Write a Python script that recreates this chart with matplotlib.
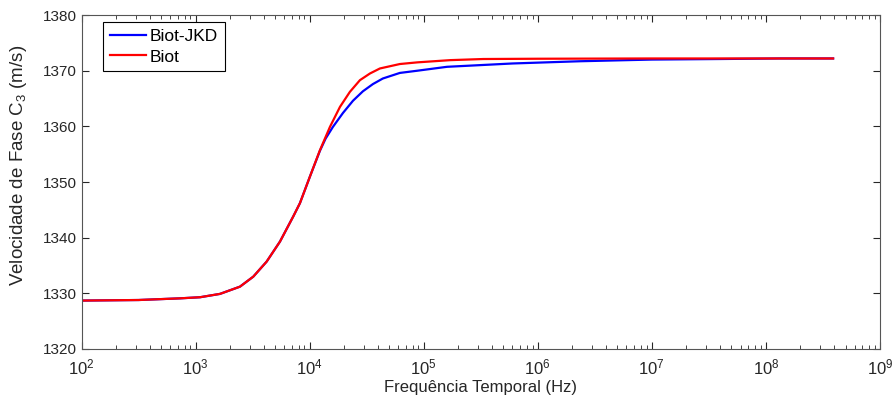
import numpy as np
import matplotlib
matplotlib.use("Agg")
import matplotlib.pyplot as plt
from matplotlib.ticker import LogLocator

plt.rcParams['font.family'] = ['Liberation Sans', 'DejaVu Sans']
plt.rcParams['mathtext.fontset'] = 'custom'
plt.rcParams['mathtext.rm'] = 'Liberation Sans'
plt.rcParams['mathtext.it'] = 'Liberation Sans'

# log10 of frequency (Hz) and phase velocity (m/s)
biot_logf = [2.0, 2.5, 2.863, 3.039, 3.214, 3.389, 3.506, 3.623, 3.740, 3.856,
             3.915, 4.003, 4.090, 4.178, 4.266, 4.353, 4.441, 4.529, 4.616,
             4.791, 4.945, 5.234, 5.523, 6.0, 7.0, 8.59]
biot_c3 = [1328.7, 1328.8, 1329.1, 1329.3, 1329.9, 1331.2, 1333.0, 1335.7, 1339.3,
           1343.8, 1346.2, 1351.0, 1355.7, 1359.9, 1363.5, 1366.2, 1368.3, 1369.5,
           1370.4, 1371.2, 1371.5, 1371.9, 1372.1, 1372.15, 1372.2, 1372.2]

jkd_logf = [2.0, 2.5, 2.863, 3.039, 3.214, 3.389, 3.506, 3.623, 3.740, 3.856,
            3.915, 4.003, 4.090, 4.140, 4.204, 4.292, 4.380, 4.467, 4.555, 4.642,
            4.791, 4.945, 5.204, 5.78, 6.37, 7.0, 7.6, 8.12, 8.59]
jkd_c3 = [1328.7, 1328.8, 1329.1, 1329.3, 1329.9, 1331.2, 1333.0, 1335.7, 1339.3,
          1343.8, 1346.2, 1351.0, 1355.6, 1357.8, 1359.9, 1362.4, 1364.6, 1366.3,
          1367.6, 1368.6, 1369.6, 1370.0, 1370.7, 1371.3, 1371.7, 1372.0, 1372.1,
          1372.2, 1372.2]

fig = plt.figure(figsize=(8.93, 3.96), dpi=100)
ax = fig.add_axes([0.0913, 0.1187, 0.894, 0.8433])

ax.plot(10 ** np.array(jkd_logf), jkd_c3, color='#0000ff', lw=1.6, label='Biot-JKD')
ax.plot(10 ** np.array(biot_logf), biot_c3, color='#ff0000', lw=1.6, label='Biot')

ax.set_xscale('log')
ax.set_xlim(1e2, 1e9)
ax.set_ylim(1320, 1380)
ax.set_yticks(np.arange(1320, 1381, 10))
ax.xaxis.set_major_locator(LogLocator(base=10, numticks=12))
ax.xaxis.set_minor_locator(LogLocator(base=10, subs=np.arange(2, 10), numticks=12))

ax.tick_params(which='both', direction='in', top=True, right=True, colors='#262626',
               labelsize=11)
ax.tick_params(axis='x', which='major', labelsize=12, pad=6)
ax.tick_params(which='major', length=5)
ax.tick_params(which='minor', length=3)
for s in ax.spines.values():
    s.set_color('#555555')

ax.set_xlabel('Frequência Temporal (Hz)', fontsize=12, color='#262626', labelpad=2)
ax.set_ylabel('Velocidade de Fase C$_3$ (m/s)', fontsize=13.5, color='#262626')
ax.yaxis.set_label_coords(-0.066, 0.55)

leg = ax.legend(loc='upper left', bbox_to_anchor=(0.027, 0.979), fontsize=12.5,
                fancybox=False, framealpha=1, edgecolor='black', handlelength=2.1,
                handletextpad=0.2, borderpad=0.4, labelspacing=0.3,
                borderaxespad=0)
leg.get_frame().set_linewidth(0.8)

fig.savefig('out.png', dpi=100)
